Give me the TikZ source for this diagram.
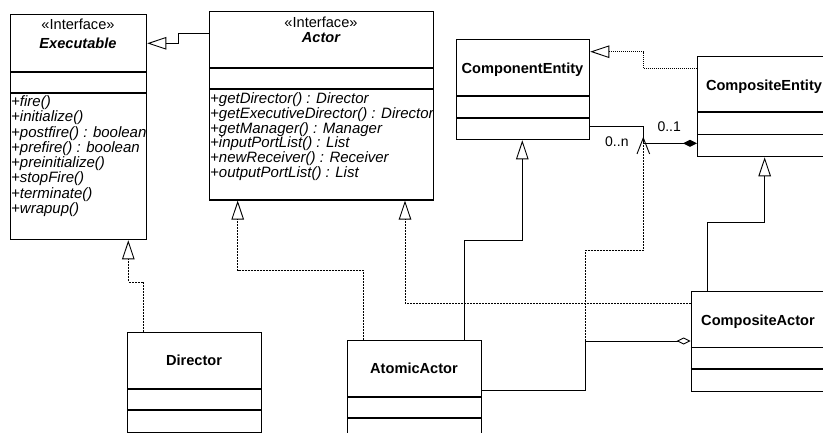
\documentclass[tikz,border=0pt]{standalone}
\usepackage{fontspec}
\setmainfont{Liberation Sans}
\usetikzlibrary{arrows.meta}
\tikzset{
  box/.style={draw, line width=1.3pt, rectangle, inner sep=0pt, anchor=north west},
  divider/.style={line width=1.3pt},
  meth/.style={inner sep=0pt, anchor=base west, font=\fontsize{15}{15.3}\selectfont\itshape},
  cname/.style={inner sep=0pt, anchor=base, font=\fontsize{14.6}{16}\selectfont\bfseries},
  iname/.style={inner sep=0pt, anchor=base, font=\fontsize{14.6}{16}\selectfont\bfseries\itshape},
  stereo/.style={inner sep=0pt, anchor=base, font=\fontsize{14.6}{16}\selectfont},
  mult/.style={inner sep=0pt, anchor=base west, font=\fontsize{14}{16}\selectfont},
  conn/.style={line width=0.9pt},
  gen/.style={conn, -{Triangle[open, length=19pt, width=12.5pt, line width=0.9pt]}},
  real/.style={gen, dash pattern=on 2pt off 1pt},
  dotgen/.style={gen, dash pattern=on 1pt off 1pt},
  comp/.style={conn, {Diamond[length=14pt, width=7pt]}-},
  agg/.style={conn, -{Diamond[open, length=14pt, width=7pt, line width=0.9pt]}},
  nav/.style={conn, dash pattern=on 2pt off 1pt, -{Straight Barb[length=16pt, width=12.6pt, line width=0.9pt]}}
}
\begin{document}
\begin{tikzpicture}[x=1pt, y=-1pt]
\useasboundingbox (0,0) rectangle (823,433);
\clip (0,0) rectangle (823,433);

% ---------- Executable ----------
\node[box, minimum width=136pt, minimum height=225pt] (exe) at (10,14) {};
\draw[divider] (exe.west |- 0,72) -- (exe.east |- 0,72);
\draw[divider] (exe.west |- 0,93) -- (exe.east |- 0,93);
\node[stereo] (exes) at (78,29.5) {«Interface»};
\node[iname] (exen) at (78,49) {Executable};
\foreach \t [count=\i from 0] in {{+fire()},{+initialize()},{+postfire() : boolean},{+prefire() : boolean},{+preinitialize()},{+stopFire()},{+terminate()},{+wrapup()}}
  \node[meth] (exm\i) at (11,{106.5+15.3*\i}) {\t};

% ---------- Actor ----------
\node[box, minimum width=223.7pt, minimum height=188.3pt] (act) at (209,11) {};
\draw[divider] (act.west |- 0,68) -- (act.east |- 0,68);
\draw[divider] (act.west |- 0,89) -- (act.east |- 0,89);
\node[stereo] (acts) at (321,27.7) {«Interface»};
\node[iname] (actn) at (321,42.7) {Actor};
\foreach \t [count=\i from 0] in {{+getDirector() : Director},{+getExecutiveDirector() : Director},{+getManager() : Manager},{+inputPortList() : List},{+newReceiver() : Receiver},{+outputPortList() : List}}
  \node[meth] (actm\i) at (210,{103.5+14.8*\i}) {\t};

% ---------- ComponentEntity ----------
\node[box, minimum width=133pt, minimum height=100pt] (ce) at (456,39) {};
\draw[divider] (ce.west |- 0,96) -- (ce.east |- 0,96);
\draw[divider] (ce.west |- 0,118) -- (ce.east |- 0,118);
\node[cname] (cen) at (522.5,73.3) {ComponentEntity};

% ---------- CompositeEntity ----------
\node[box, minimum width=134pt, minimum height=100pt] (cpe) at (697,56) {};
\draw[divider] (cpe.west |- 0,112) -- (cpe.east |- 0,112);
\draw[divider] (cpe.west |- 0,134.7) -- (cpe.east |- 0,134.7);
\node[cname] (cpen) at (764,90.7) {CompositeEntity};

% ---------- Director ----------
\node[box, minimum width=134pt, minimum height=100pt] (dir) at (127,332) {};
\draw[divider] (dir.west |- 0,389) -- (dir.east |- 0,389);
\draw[divider] (dir.west |- 0,410) -- (dir.east |- 0,410);
\node[cname] (dirn) at (194,365.7) {Director};

% ---------- AtomicActor ----------
\node[box, minimum width=134pt, minimum height=120pt] (atom) at (347,340) {};
\draw[divider] (atom.west |- 0,397) -- (atom.east |- 0,397);
\draw[divider] (atom.west |- 0,418) -- (atom.east |- 0,418);
\node[cname] (atomn) at (414,373.3) {AtomicActor};

% ---------- CompositeActor ----------
\node[box, minimum width=134.6pt, minimum height=100.3pt] (cpa) at (690.7,290.7) {};
\draw[divider] (cpa.west |- 0,347.7) -- (cpa.east |- 0,347.7);
\draw[divider] (cpa.west |- 0,369) -- (cpa.east |- 0,369);
\node[cname] (cpan) at (758,325) {CompositeActor};

% ---------- connectors ----------
% Actor -> Executable
\draw[gen] (act.west |- 0,33.3) -- (178.3,33.3) |- (exe.east |- 0,43.3);
% Director -> Executable
\draw[real] (dir.north -| 143.7,0) -- (143.7,282) -| (exe.south -| 128.3,0);
% AtomicActor -> Actor
\draw[real] (atom.north -| 363.3,0) -- (363.3,270) -| (act.south -| 237.7,0);
% CompositeActor -> Actor
\draw[real] (cpa.west |- 0,303.3) -| (act.south -| 405,0);
% AtomicActor -> ComponentEntity
\draw[gen] (atom.north -| 464,0) -- (464,240) -| (ce.south -| 522.3,0);
% CompositeActor -> CompositeEntity
\draw[gen] (cpa.north -| 707.3,0) -- (707.3,222.7) -| (cpe.south);
% CompositeEntity -> ComponentEntity
\draw[dotgen] (cpe.west |- 0,68.3) -- (643.3,68.3) |- (ce.east |- 0,51.7);
% composition CompositeEntity <>-- ComponentEntity
\draw[comp] (cpe.west |- 0,143.3) -- (643.3,143.3) |- (ce.east |- 0,126.3);
\node[mult] (m0n) at (605,146.7) {0..n};
\node[mult] (m01) at (657.3,131.7) {0..1};
% aggregation AtomicActor -- <> CompositeActor
\draw[agg] (atom.east |- 0,390) -- (585.7,390) |- (cpa.west |- 0,341);
\coordinate (jn) at (585.7,341);
\coordinate (apex) at (643.3,136.7);
\draw[nav] (jn) -- (585.7,250) -| (apex);
\end{tikzpicture}
\end{document}
